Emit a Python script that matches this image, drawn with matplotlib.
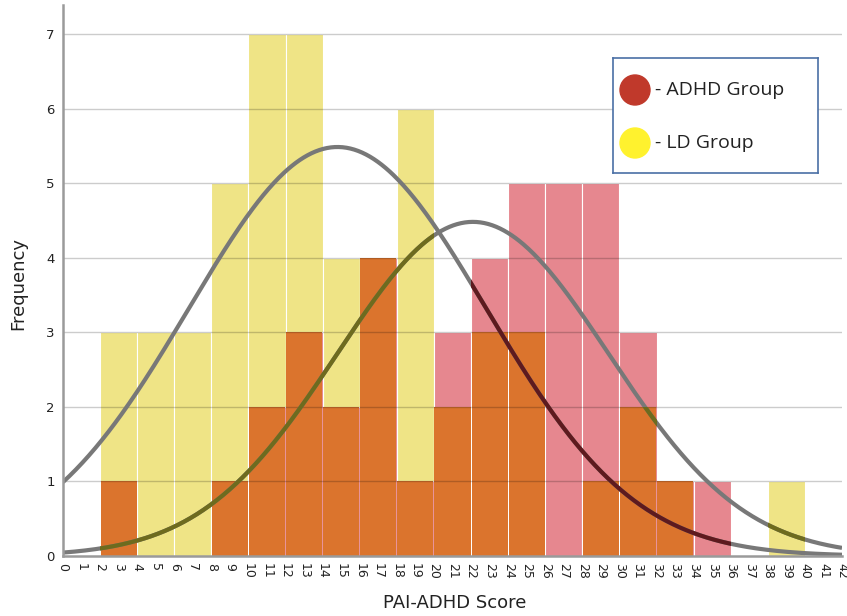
import numpy as np
import matplotlib
matplotlib.use("Agg")
import matplotlib.pyplot as plt
from matplotlib.patches import Circle

# histogram bins (width 2) and counts
bin_left = [2, 4, 6, 8, 10, 12, 14, 16, 18, 20, 22, 24, 26, 28, 30, 32, 34, 36, 38]
ld_counts = [3, 3, 3, 5, 7, 7, 4, 4, 6, 2, 3, 3, 0, 1, 2, 1, 0, 0, 1]
adhd_counts = [1, 0, 0, 1, 2, 3, 2, 4, 1, 3, 4, 5, 5, 5, 3, 1, 1, 0, 0]

# fitted normal curves (mean, sd, n)
ld_mean, ld_sd, ld_n = 14.8, 8.0, 55
adhd_mean, adhd_sd, adhd_n = 22.1, 7.3, 41
bin_w = 2

yellow = "#EFE486"
pink = "#E6878F"
orange = "#DB742D"
curve_gray = "#787878"
olive = "#6E6B1E"
maroon = "#5E1A1E"


def normal_curve(x, mean, sd, n):
    return n * bin_w / (sd * np.sqrt(2 * np.pi)) * np.exp(-(x - mean) ** 2 / (2 * sd ** 2))


fig = plt.figure(figsize=(8.47, 6.16), dpi=100)
ax = fig.add_axes([63 / 847, 1 - 556 / 616, 779 / 847, 551 / 616])

left = np.array(bin_left)
ld = np.array(ld_counts)
adhd = np.array(adhd_counts)
overlap = np.minimum(ld, adhd)

ld_bars = ax.bar(left, ld, width=bin_w, align="edge", color=yellow,
                 edgecolor="white", linewidth=0.8, zorder=1)
adhd_bars = ax.bar(left, adhd, width=bin_w, align="edge", color=pink,
                   edgecolor="white", linewidth=0.8, zorder=2)
ax.bar(left + 0.025, overlap, width=bin_w - 0.05, align="edge", color=orange,
       linewidth=0, zorder=3)

# grid lines on top of the bars
for yv in range(1, 8):
    ax.axhline(yv, color="black", alpha=0.2, linewidth=1, zorder=4)

xs = np.linspace(0, 42, 600)
ld_y = normal_curve(xs, ld_mean, ld_sd, ld_n)
adhd_y = normal_curve(xs, adhd_mean, adhd_sd, adhd_n)

ax.plot(xs, ld_y, color=curve_gray, linewidth=3, zorder=5, solid_capstyle="butt")
ax.plot(xs, adhd_y, color=curve_gray, linewidth=3, zorder=5, solid_capstyle="butt")

# curve tinted where it passes behind the other group's bars
for patch, c in zip(ld_bars, ld_counts):
    if c > 0:
        ln, = ax.plot(xs, adhd_y, color=olive, linewidth=3, zorder=6)
        ln.set_clip_path(patch)
for patch, c in zip(adhd_bars, adhd_counts):
    if c > 0:
        ln, = ax.plot(xs, ld_y, color=maroon, linewidth=3, zorder=6)
        ln.set_clip_path(patch)

ax.set_xlim(0, 42)
ax.set_ylim(0, 7.39)
ax.set_xticks(range(0, 43))
ax.set_xticklabels([str(i) for i in range(0, 43)], rotation=-90, fontsize=9, color="#222222")
ax.set_yticks(range(0, 8))
ax.set_yticklabels([str(i) for i in range(0, 8)], fontsize=9.5, color="#222222")
ax.tick_params(axis="both", length=0)
ax.tick_params(axis="x", pad=5)
ax.tick_params(axis="y", pad=6)
for s in ["top", "right"]:
    ax.spines[s].set_visible(False)
for s in ["left", "bottom"]:
    ax.spines[s].set_color("#9a9a9a")
    ax.spines[s].set_linewidth(1.8)
    ax.spines[s].set_zorder(7)

fig.text(455 / 847, 1 - 603 / 616, "PAI-ADHD Score", ha="center", va="center",
         fontsize=13, color="#222222")
fig.text(18 / 847, 1 - 283 / 616, "Frequency", ha="center", va="center",
         rotation=90, fontsize=13, color="#222222")

# hand-drawn legend box
lax = fig.add_axes([613 / 847, 1 - 173 / 616, 205 / 847, 115 / 616])
lax.set_xlim(0, 205)
lax.set_ylim(115, 0)
lax.set_xticks([])
lax.set_yticks([])
for s in lax.spines.values():
    s.set_color("#4A6FA5")
    s.set_linewidth(1.2)
lax.add_patch(Circle((22, 32), 15, color="#C0392B"))
lax.add_patch(Circle((22, 85), 15, color="#FFF22E"))
lax.text(42, 32, "- ADHD Group", va="center", ha="left", fontsize=14,
         family="Open Sans", color="#222222")
lax.text(42, 85, "- LD Group", va="center", ha="left", fontsize=14,
         family="Open Sans", color="#222222")

fig.savefig("out.png", dpi=100)
